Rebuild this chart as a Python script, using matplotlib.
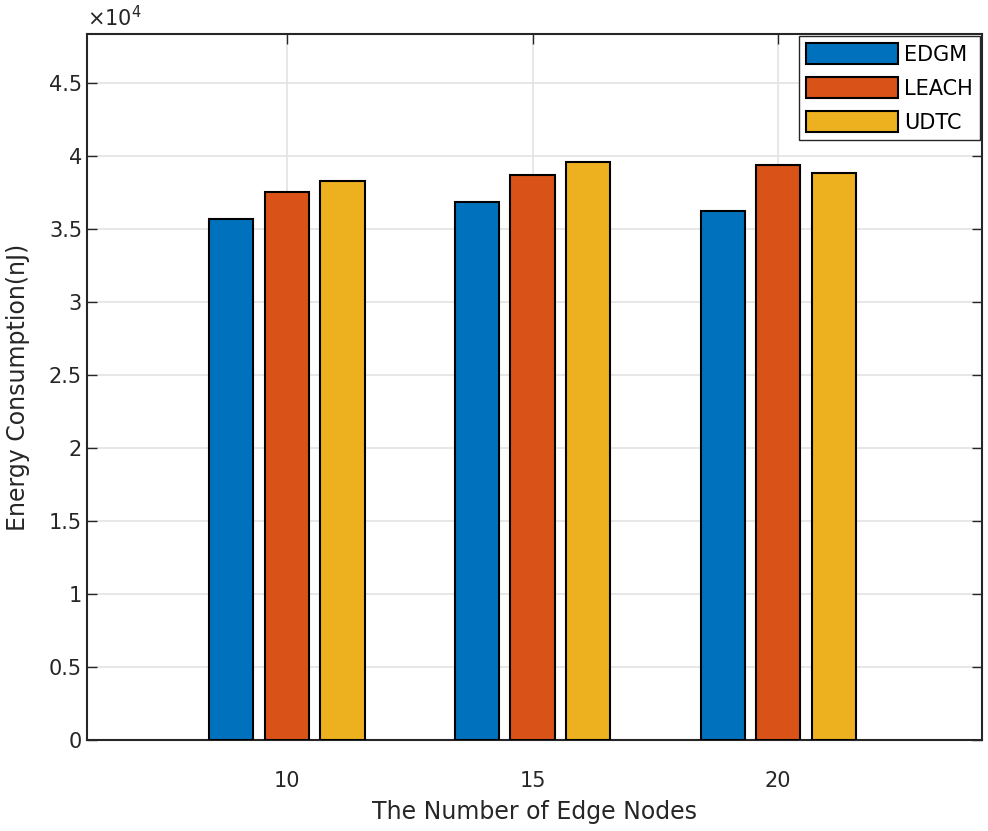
import numpy as np
import matplotlib.pyplot as plt
from matplotlib.ticker import FuncFormatter

plt.rc('font', family='DejaVu Sans', size=15)

# Datos
nodos = [10, 15, 20]
series = ['EDGM', 'LEACH', 'UDTC']
edgm = [35660, 36870, 36250]
leach = [37550, 38700, 39400]
udtc = [38290, 39590, 38860]
colores = ['#0072BD', '#D95319', '#EDB120']

fig = plt.figure(figsize=(9.88, 8.31), dpi=100)
ax = fig.add_axes([0.088, 0.1095, 0.906, 0.8495])

x = np.array(nodos, dtype=float)
ancho = 0.9
desp = 1.13
for i, (nom, vals) in enumerate(zip(series, [edgm, leach, udtc])):
    ax.bar(x + (i - 1) * desp, vals, width=ancho, color=colores[i],
           edgecolor='black', linewidth=1.5, label=nom, zorder=3)

# Ejes
ax.set_xlim(5.93, 24.15)
ax.set_ylim(0, 48360)
ax.set_xticks(nodos)
ax.set_yticks(np.arange(0, 45001, 5000))
ax.yaxis.set_major_formatter(FuncFormatter(lambda v, p: ('%g' % (v / 1e4))))
ax.tick_params(direction='in', length=7, width=1, top=True, right=True,
               labelsize=15, colors='#262626')
ax.tick_params(axis='x', pad=22)
for s in ax.spines.values():
    s.set_linewidth(1.5)
    s.set_color('#262626')

# Grid
ax.grid(True, color='#e3e3e3', linewidth=1.2, zorder=0)
ax.set_axisbelow(True)

ax.set_xlabel('The Number of Edge Nodes', fontsize=17, color='#262626', labelpad=7)
ax.set_ylabel('Energy Consumption(nJ)', fontsize=17, color='#262626', labelpad=14)
ax.text(0.0, 1.005, r'$\times10^{4}$', transform=ax.transAxes, fontsize=15,
        color='#262626', ha='left', va='bottom')

ax.legend(loc='upper right', fontsize=15, handlelength=4.4, handleheight=1.15,
          fancybox=False, edgecolor='#262626', framealpha=1,
          borderaxespad=0.1, labelspacing=0.6, handletextpad=0.3,
          borderpad=0.35)

fig.savefig('out.png', dpi=100)
